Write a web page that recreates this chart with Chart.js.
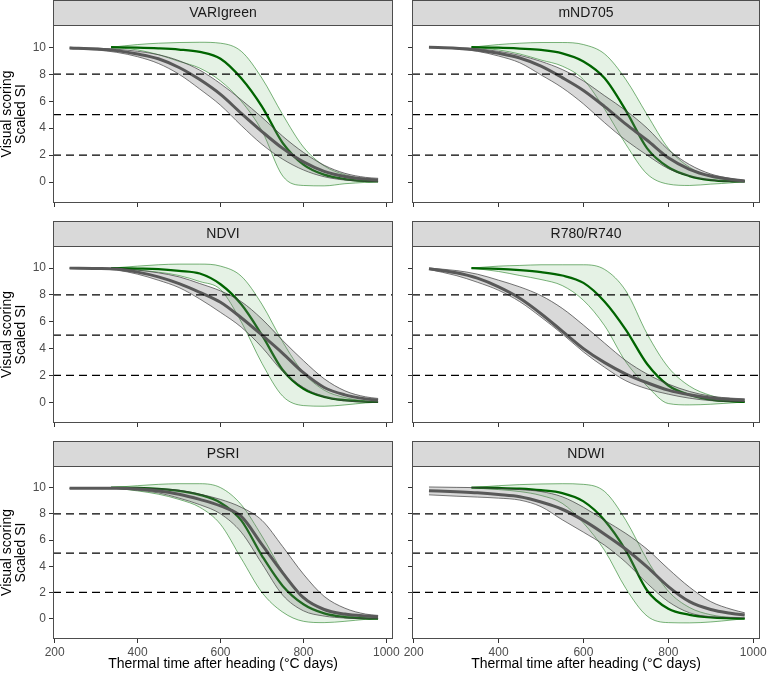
<!DOCTYPE html>
<html>
<head>
<meta charset="utf-8">
<script src="https://cdn.jsdelivr.net/npm/chart.js@4.4.1/dist/chart.umd.min.js"></script>
<style>
  html, body { margin: 0; padding: 0; background: #fff; overflow: hidden; }
  #wrap { position: relative; width: 767px; height: 676px; overflow: hidden; }
  #wrap canvas { position: absolute; }
</style>
</head>
<body>
<div id="wrap"></div>
<script>
/* =========================
   DATA
========================= */

const facetNames = ["VARIgreen", "mND705", "NDVI", "R780/R740", "PSRI", "NDWI"];

const xTicks = [200, 400, 600, 800, 1000];
const yTicks = [0, 2, 4, 6, 8, 10];
const refLines = [2, 5, 8];

const xTitle = "Thermal time after heading (°C days)";
const yTitle = ["Visual scoring", "Scaled SI"];

// thermal time grid for the visual scoring curve (grey) and the index curve (green)
const xGrey = [236, 300, 350, 400, 450, 500, 550, 600, 650, 700, 750, 800, 850, 900, 950, 980];
const xGreen = [336, 400, 450, 500, 550, 600, 650, 700, 750, 800, 850, 900, 950, 980];

// VARIgreen
const variGreyMid = [9.95, 9.87, 9.75, 9.5, 9.15, 8.5, 7.6, 6.5, 5.1, 3.75, 2.5, 1.5, 0.8, 0.42, 0.22, 0.15];
const variGreyHi  = [10.0, 9.93, 9.85, 9.7, 9.45, 9.0, 8.3, 7.3, 6.1, 4.8, 3.4, 2.2, 1.25, 0.65, 0.35, 0.28];
const variGreyLo  = [9.9, 9.8, 9.62, 9.3, 8.8, 8.0, 6.9, 5.7, 4.2, 2.8, 1.7, 0.9, 0.4, 0.15, 0.05, 0.02];
const variGreenMid = [10.0, 9.97, 9.92, 9.83, 9.65, 9.15, 7.7, 5.6, 2.9, 1.3, 0.55, 0.22, 0.08, 0.05];
const variGreenHi  = [10.0, 10.2, 10.3, 10.35, 10.37, 10.3, 9.7, 7.7, 5.0, 2.6, 1.2, 0.55, 0.2, 0.08];
const variGreenLo  = [10.0, 9.8, 9.45, 8.95, 8.45, 7.5, 6.0, 3.8, 0.45, -0.25, -0.28, -0.12, -0.02, 0.05];

// mND705
const mndGreyMid = [10.0, 9.93, 9.8, 9.55, 9.2, 8.6, 7.75, 6.8, 5.6, 4.3, 3.1, 1.8, 0.95, 0.45, 0.2, 0.08];
const mndGreyHi  = [10.0, 9.97, 9.88, 9.7, 9.4, 8.95, 8.35, 7.5, 6.4, 5.3, 4.0, 2.4, 1.3, 0.6, 0.25, 0.12];
const mndGreyLo  = [10.0, 9.88, 9.7, 9.35, 8.85, 7.95, 7.0, 5.8, 4.4, 3.1, 2.0, 1.0, 0.45, 0.15, 0.03, 0.0];
const mndGreenMid = [10.0, 9.97, 9.9, 9.8, 9.55, 8.95, 7.7, 5.3, 2.5, 1.1, 0.45, 0.15, 0.06, 0.05];
const mndGreenHi  = [10.0, 10.2, 10.3, 10.35, 10.35, 10.2, 9.5, 7.6, 5.0, 2.5, 1.1, 0.4, 0.12, 0.05];
const mndGreenLo  = [10.0, 9.8, 9.5, 9.05, 8.6, 7.6, 5.4, 2.8, 0.6, -0.15, -0.25, -0.15, -0.05, 0.05];

// NDVI
const ndviGreyMid = [10.0, 9.98, 9.93, 9.7, 9.35, 8.85, 8.2, 7.45, 6.3, 5.0, 3.65, 2.2, 1.1, 0.55, 0.25, 0.15];
const ndviGreyHi  = [10.0, 10.0, 9.97, 9.85, 9.65, 9.35, 8.85, 8.3, 7.5, 6.2, 4.6, 3.1, 1.75, 0.85, 0.4, 0.28];
const ndviGreyLo  = [10.0, 9.95, 9.85, 9.55, 9.1, 8.55, 7.7, 6.7, 5.6, 4.1, 2.3, 1.1, 0.4, 0.1, 0.02, 0.0];
const ndviGreenMid = [10.0, 9.97, 9.93, 9.8, 9.6, 8.8, 7.3, 5.0, 2.4, 1.0, 0.4, 0.15, 0.05, 0.02];
const ndviGreenHi  = [10.0, 10.15, 10.25, 10.3, 10.3, 10.15, 9.4, 7.3, 4.5, 2.2, 0.9, 0.35, 0.1, 0.02];
const ndviGreenLo  = [10.0, 9.85, 9.7, 9.45, 9.0, 8.4, 6.0, 2.9, 0.45, -0.25, -0.3, -0.2, -0.05, 0.0];

// R780/R740
const redGreyMid = [9.95, 9.65, 9.25, 8.6, 7.75, 6.6, 5.3, 4.0, 2.95, 2.1, 1.45, 0.9, 0.55, 0.32, 0.2, 0.15];
const redGreyHi  = [10.0, 9.82, 9.55, 9.1, 8.6, 7.95, 7.0, 5.75, 4.4, 3.1, 2.1, 1.35, 0.8, 0.45, 0.3, 0.25];
const redGreyLo  = [9.9, 9.45, 8.95, 8.35, 7.5, 6.35, 5.1, 3.75, 2.6, 1.6, 1.0, 0.6, 0.3, 0.12, 0.05, 0.05];
const redGreenMid = [10.0, 9.95, 9.85, 9.7, 9.45, 8.9, 7.5, 5.4, 2.85, 1.25, 0.55, 0.2, 0.06, 0.02];
const redGreenHi  = [10.0, 10.15, 10.2, 10.25, 10.25, 10.25, 9.9, 8.3, 5.1, 2.6, 1.2, 0.5, 0.15, 0.02];
const redGreenLo  = [10.0, 9.75, 9.45, 9.15, 8.7, 7.6, 5.7, 3.0, 1.2, -0.1, -0.2, -0.15, -0.05, 0.02];

// PSRI
const psriGreyMid = [9.95, 9.95, 9.95, 9.9, 9.75, 9.5, 9.1, 8.6, 7.8, 5.65, 3.5, 1.6, 0.7, 0.35, 0.2, 0.15];
const psriGreyHi  = [9.97, 9.97, 10.0, 9.98, 9.92, 9.8, 9.5, 9.1, 8.5, 7.5, 5.5, 3.4, 1.7, 0.8, 0.35, 0.25];
const psriGreyLo  = [9.93, 9.93, 9.92, 9.8, 9.6, 9.2, 8.7, 8.0, 6.6, 4.2, 1.8, 0.6, 0.2, 0.05, 0.0, 0.0];
const psriGreenMid = [10.0, 9.97, 9.9, 9.75, 9.45, 8.85, 7.5, 4.8, 2.5, 1.1, 0.4, 0.12, 0.03, 0.0];
const psriGreenHi  = [10.0, 10.15, 10.25, 10.3, 10.3, 10.0, 8.7, 6.3, 3.6, 1.7, 0.7, 0.25, 0.07, 0.0];
const psriGreenLo  = [10.0, 9.75, 9.5, 9.1, 8.5, 7.2, 4.6, 2.0, 0.5, -0.2, -0.3, -0.2, -0.05, 0.0];

// NDWI
const ndwiGreyMid = [9.77, 9.68, 9.6, 9.47, 9.3, 8.9, 8.35, 7.5, 6.45, 5.3, 3.95, 2.45, 1.3, 0.7, 0.4, 0.28];
const ndwiGreyHi  = [10.05, 10.02, 10.0, 9.95, 9.85, 9.7, 9.3, 8.5, 7.5, 6.5, 5.3, 3.8, 2.4, 1.3, 0.7, 0.45];
const ndwiGreyLo  = [9.45, 9.35, 9.28, 9.2, 9.05, 8.55, 7.55, 6.6, 5.6, 4.3, 2.7, 1.3, 0.45, 0.15, 0.1, 0.07];
const ndwiGreenMid = [10.0, 9.97, 9.92, 9.8, 9.58, 8.95, 7.5, 5.2, 2.15, 0.75, 0.3, 0.1, 0.03, 0.0];
const ndwiGreenHi  = [10.0, 10.15, 10.23, 10.28, 10.3, 10.25, 9.7, 7.5, 4.5, 2.1, 0.85, 0.3, 0.08, 0.0];
const ndwiGreenLo  = [10.0, 9.85, 9.7, 9.4, 8.8, 7.3, 5.2, 2.3, 0.2, -0.3, -0.32, -0.25, -0.1, 0.0];

const facets = [
  { name: facetNames[0], greyMid: variGreyMid, greyHi: variGreyHi, greyLo: variGreyLo, greenMid: variGreenMid, greenHi: variGreenHi, greenLo: variGreenLo },
  { name: facetNames[1], greyMid: mndGreyMid, greyHi: mndGreyHi, greyLo: mndGreyLo, greenMid: mndGreenMid, greenHi: mndGreenHi, greenLo: mndGreenLo },
  { name: facetNames[2], greyMid: ndviGreyMid, greyHi: ndviGreyHi, greyLo: ndviGreyLo, greenMid: ndviGreenMid, greenHi: ndviGreenHi, greenLo: ndviGreenLo },
  { name: facetNames[3], greyMid: redGreyMid, greyHi: redGreyHi, greyLo: redGreyLo, greenMid: redGreenMid, greenHi: redGreenHi, greenLo: redGreenLo },
  { name: facetNames[4], greyMid: psriGreyMid, greyHi: psriGreyHi, greyLo: psriGreyLo, greenMid: psriGreenMid, greenHi: psriGreenHi, greenLo: psriGreenLo },
  { name: facetNames[5], greyMid: ndwiGreyMid, greyHi: ndwiGreyHi, greyLo: ndwiGreyLo, greenMid: ndwiGreenMid, greenHi: ndwiGreenHi, greenLo: ndwiGreenLo }
];

/* =========================
   LAYOUT
========================= */

const xMin = 196, xMax = 1016;
const yMin = -1.55, yMax = 11.65;

const colLeft = [0, 398];
const colWidth = [412, 380];
const areaLeft = [53, 412];
const areaRight = [393, 760];
const rowTop = [0, 221, 441];
const areaBottom = [203, 423, 639];
const stripH = 25;

Chart.defaults.font.family = "'Liberation Sans', Arial, Helvetica, sans-serif";

/* =========================
   STRIP + PANEL BORDER
========================= */

const stripPlugin = {
  id: "strip",
  afterDraw(chart, args, opts) {
    const { ctx, chartArea: a } = chart;
    ctx.save();
    ctx.fillStyle = "#d9d9d9";
    ctx.fillRect(a.left, a.top - stripH, a.right - a.left, stripH);
    ctx.strokeStyle = "#4d4d4d";
    ctx.lineWidth = 1;
    ctx.strokeRect(a.left + 0.5, a.top - stripH + 0.5, a.right - a.left - 1, stripH);
    ctx.strokeRect(a.left + 0.5, a.top + 0.5, a.right - a.left - 1, a.bottom - a.top - 1);
    ctx.fillStyle = "#1a1a1a";
    ctx.font = "14px 'Liberation Sans', Arial, sans-serif";
    ctx.textAlign = "center";
    ctx.textBaseline = "middle";
    ctx.fillText(opts.text, (a.left + a.right) / 2, a.top - stripH / 2 + 0.5);
    ctx.restore();
  }
};

function pts(xs, ys) {
  return xs.map((x, i) => ({ x: x, y: ys[i] }));
}

function edge(data, color, order, fill, bg) {
  return {
    data: data,
    borderColor: color,
    borderWidth: 0.7,
    backgroundColor: bg || "transparent",
    fill: fill,
    pointRadius: 0,
    cubicInterpolationMode: "monotone",
    order: order
  };
}

/* =========================
   RENDER
========================= */

const wrap = document.getElementById("wrap");

facets.forEach((f, i) => {
  const col = i % 2;
  const row = Math.floor(i / 2);
  const bottomRow = row === 2;
  const leftCol = col === 0;

  const xh = bottomRow ? 37 : 7;
  const yw = areaLeft[col] - colLeft[col];
  const w = colWidth[col];
  const h = areaBottom[row] - rowTop[row] + xh;

  const cv = document.createElement("canvas");
  cv.width = w;
  cv.height = h;
  cv.style.left = colLeft[col] + "px";
  cv.style.top = rowTop[row] + "px";
  cv.style.width = w + "px";
  cv.style.height = h + "px";
  wrap.appendChild(cv);

  const datasets = [
    edge(pts(xGreen, f.greenLo), "rgba(0,110,0,0.75)", 6, false),
    edge(pts(xGreen, f.greenHi), "rgba(0,110,0,0.75)", 5, "-1", "rgba(0,128,0,0.1)"),
    {
      data: pts(xGreen, f.greenMid),
      borderColor: "#006400",
      borderWidth: 2.3,
      fill: false,
      pointRadius: 0,
      cubicInterpolationMode: "monotone",
      order: 4
    },
    edge(pts(xGrey, f.greyLo), "#3a3a3a", 3, false),
    edge(pts(xGrey, f.greyHi), "#3a3a3a", 2, "-1", "rgba(120,120,120,0.28)"),
    {
      data: pts(xGrey, f.greyMid),
      borderColor: "#595959",
      borderWidth: 3,
      fill: false,
      pointRadius: 0,
      cubicInterpolationMode: "monotone",
      order: 1
    }
  ];

  refLines.forEach(v => {
    datasets.push({
      data: [{ x: xMin, y: v }, { x: xMax, y: v }],
      borderColor: "#000",
      borderWidth: 1.3,
      borderDash: [8, 5],
      fill: false,
      pointRadius: 0,
      order: 0
    });
  });

  new Chart(cv, {
    type: "line",
    data: { datasets: datasets },
    plugins: [stripPlugin],
    options: {
      responsive: false,
      animation: false,
      events: [],
      layout: {
        padding: { left: 0, right: colLeft[col] + w - areaRight[col], top: stripH, bottom: 0 }
      },
      plugins: {
        legend: { display: false },
        tooltip: { enabled: false },
        strip: { text: f.name }
      },
      scales: {
        x: {
          type: "linear",
          min: xMin,
          max: xMax,
          afterBuildTicks: s => { s.ticks = xTicks.map(v => ({ value: v })); },
          afterFit: s => { s.height = xh; s.paddingLeft = 0; s.paddingRight = 0; },
          grid: { drawOnChartArea: false, drawTicks: true, tickLength: 4, color: "#333" },
          border: { display: false },
          ticks: {
            display: bottomRow,
            padding: 2,
            color: "#4d4d4d",
            font: { size: 12 },
            maxRotation: 0,
            autoSkip: false,
            callback: v => String(v)
          },
          title: {
            display: bottomRow,
            text: xTitle,
            color: "#000",
            font: { size: 14 },
            padding: { top: 0, bottom: 3 }
          }
        },
        y: {
          type: "linear",
          min: yMin,
          max: yMax,
          afterBuildTicks: s => { s.ticks = yTicks.map(v => ({ value: v })); },
          afterFit: s => { s.width = yw; s.paddingTop = 0; s.paddingBottom = 0; },
          grid: { drawOnChartArea: false, drawTicks: true, tickLength: 4, color: "#333" },
          border: { display: false },
          ticks: {
            display: leftCol,
            padding: 3,
            color: "#4d4d4d",
            font: { size: 12 },
            callback: v => String(v)
          },
          title: {
            display: leftCol,
            text: yTitle,
            color: "#000",
            font: { size: 14, lineHeight: 1.0 },
            padding: { top: 0, bottom: 0 }
          }
        }
      }
    }
  });
});
</script>
</body>
</html>
